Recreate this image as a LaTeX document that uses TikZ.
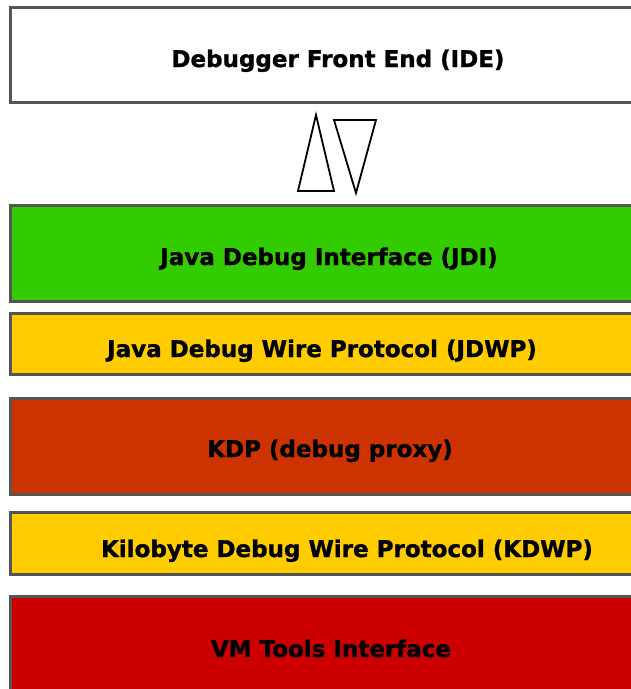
\documentclass[tikz,border=0pt]{standalone}
\usepackage{fontspec}
\newfontfamily\layerfont{DejaVu Sans Bold}[FakeBold=1.2]
\definecolor{layergreen}{HTML}{33CC00}
\definecolor{layeryellow}{HTML}{FFCC00}
\definecolor{layerorange}{HTML}{CC3300}
\definecolor{layerred}{HTML}{CC0000}
\definecolor{layeredge}{HTML}{555555}
\tikzset{
  layer/.style={draw=layeredge, line width=2.6pt, inner sep=0pt, anchor=north west},
  layertext/.style={font=\layerfont\fontsize{23}{27}\selectfont, text=black, anchor=base, inner sep=0pt},
  flowtri/.style={draw=black, line width=1.8pt, fill=white, line join=miter}
}
\begin{document}
\begin{tikzpicture}[x=1pt,y=-1pt]
\useasboundingbox (0,0) rectangle (631,689);
\fill[white] (0,0) rectangle (631,689);
\clip (0,0) rectangle (631,689);

% stacked layers, each running off the right edge
\node[layer, fill=white,        minimum width=640pt, minimum height=95pt]  (ide)  at (9,6)   {};
\node[layer, fill=layergreen,   minimum width=640pt, minimum height=96pt]  (jdi)  at (9,204) {};
\node[layer, fill=layeryellow,  minimum width=640pt, minimum height=61pt]  (jdwp) at (9,312) {};
\node[layer, fill=layerorange,  minimum width=640pt, minimum height=96pt]  (kdp)  at (9,397) {};
\node[layer, fill=layeryellow,  minimum width=640pt, minimum height=62pt]  (kdwp) at (9,511) {};
\node[layer, fill=layerred,     minimum width=640pt, minimum height=110pt] (vmti) at (9,595) {};

% layer captions
\node[layertext] (ideT)  at (338,67)  {Debugger Front End (IDE)};
\node[layertext] (jdiT)  at (329,265) {Java Debug Interface (JDI)};
\node[layertext] (jdwpT) at (322,357) {Java Debug Wire Protocol (JDWP)};
\node[layertext] (kdpT)  at (330,457) {KDP (debug proxy)};
\node[layertext] (kdwpT) at (347,557) {Kilobyte Debug Wire Protocol (KDWP)};
\node[layertext] (vmtiT) at (331,657) {VM Tools Interface};

% up and down triangles between the front end and JDI
\draw[flowtri] (316,115) -- (334,191) -- (298,191) -- cycle;
\draw[flowtri] (334,120) -- (376,120) -- (356,193) -- cycle;
\end{tikzpicture}
\end{document}
